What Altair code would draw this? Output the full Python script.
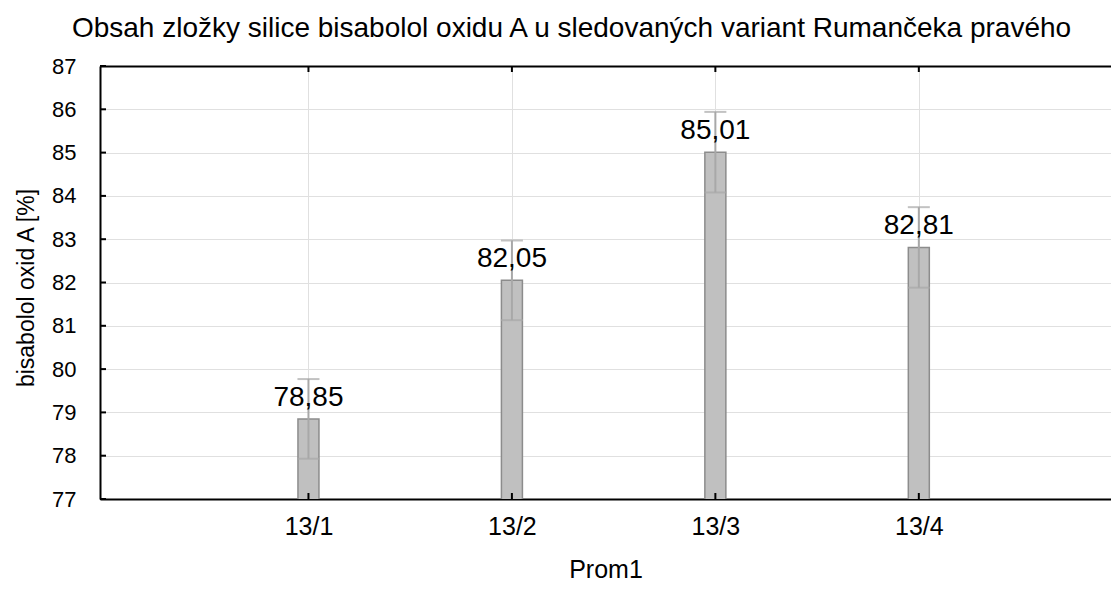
import json
import altair as alt
import pandas as pd

categories = ["13/1", "13/2", "13/3", "13/4"]
means = [78.85, 82.05, 85.01, 82.81]
errors = [0.92, 0.92, 0.93, 0.93]
value_labels = ["78,85", "82,05", "85,01", "82,81"]
y_ticks = [77, 78, 79, 80, 81, 82, 83, 84, 85, 86, 87]

df = pd.DataFrame({
    "cat": categories,
    "pos": list(range(1, len(categories) + 1)),
    "mean": means,
    "lo": [m - e for m, e in zip(means, errors)],
    "hi": [m + e for m, e in zip(means, errors)],
    "label": value_labels,
})
yt = pd.DataFrame({"v": y_ticks})

W, H = 1011, 433
FONT = "Liberation Sans"

label_expr = "[''," + ",".join(json.dumps(c) for c in categories) + "][datum.value]"

xscale = alt.Scale(domain=[0, 4.92], nice=False, zero=False)
yscale = alt.Scale(domain=[77, 87], nice=False, zero=False)

xaxis = alt.Axis(values=[1, 2, 3, 4], labelExpr=label_expr, title="Prom1",
                 grid=True, gridColor="#e0e0e0", gridWidth=1,
                 domainColor="black", domainWidth=2, ticks=False,
                 labelFont=FONT, labelFontSize=25, labelColor="black", labelPadding=15,
                 titleFont=FONT, titleFontSize=25, titleFontWeight="normal",
                 titleColor="black", titleY=78, titleBaseline="alphabetic")
yaxis = alt.Axis(values=y_ticks, title="bisabolol oxid A [%]",
                 grid=True, gridColor="#e0e0e0", gridWidth=1,
                 domainColor="black", domainWidth=2, ticks=False,
                 labelFont=FONT, labelFontSize=22, labelColor="black", labelPadding=24,
                 titleFont=FONT, titleFontSize=23, titleFontWeight="normal",
                 titleColor="black", titleX=-74, titleY=H / 2 + 5, titleAngle=270,
                 titleAlign="center", titleBaseline="middle")

base = alt.Chart(df)

bars = base.mark_bar(width=21, color="#c0c0c0", stroke="#8c8c8c", strokeWidth=1.5,
                     clip=True).encode(
    x=alt.X("pos:Q", scale=xscale, axis=xaxis),
    y=alt.Y("mean:Q", scale=yscale, axis=yaxis),
)

err = base.mark_rule(color="#a8a8a8", strokeWidth=2).encode(
    x=alt.X("pos:Q", scale=xscale, axis=None),
    y=alt.Y("lo:Q", scale=yscale),
    y2="hi:Q",
)
cap_hi = base.mark_tick(orient="horizontal", size=22, thickness=2, color="#a8a8a8").encode(
    x=alt.X("pos:Q", scale=xscale, axis=None),
    y=alt.Y("hi:Q", scale=yscale),
)
cap_lo = base.mark_tick(orient="horizontal", size=22, thickness=2, color="#a8a8a8").encode(
    x=alt.X("pos:Q", scale=xscale, axis=None),
    y=alt.Y("lo:Q", scale=yscale),
)

text = base.mark_text(font=FONT, fontSize=28, color="black", dy=-13,
                      baseline="alphabetic", align="center").encode(
    x=alt.X("pos:Q", scale=xscale, axis=None),
    y=alt.Y("mean:Q", scale=yscale),
    text="label:N",
)

# inward ticks
yticks_in = alt.Chart(yt).mark_rule(color="black", strokeWidth=2).encode(
    y=alt.Y("v:Q", scale=yscale),
    x=alt.value(0), x2=alt.value(6),
)
bticks = base.mark_rule(color="black", strokeWidth=2).encode(
    x=alt.X("pos:Q", scale=xscale, axis=None),
    y=alt.value(H), y2=alt.value(H - 6),
)
tticks = base.mark_rule(color="black", strokeWidth=2).encode(
    x=alt.X("pos:Q", scale=xscale,
            axis=alt.Axis(orient="top", labels=False, ticks=False, grid=False, title=None,
                          domainColor="black", domainWidth=2)),
    y=alt.value(0), y2=alt.value(6),
)

chart = alt.layer(bars, err, cap_hi, cap_lo, text, yticks_in, bticks, tticks).resolve_axis(
    x="independent"
).properties(
    width=W, height=H,
    autosize=alt.AutoSizeParams(type="none"),
    padding={"left": 92, "top": 58, "right": 0, "bottom": 82},
    title=alt.TitleParams(
        "Obsah zložky silice bisabolol oxidu A u sledovaných variant Rumančeka pravého",
        font=FONT, fontSize=28, fontWeight="normal", color="black",
        anchor="middle", dx=-34, offset=31, dy=41, baseline="alphabetic",
    ),
).configure_view(stroke=None).configure(background="white")

chart.save("out.html", embed_options={"renderer": "svg", "actions": False})
